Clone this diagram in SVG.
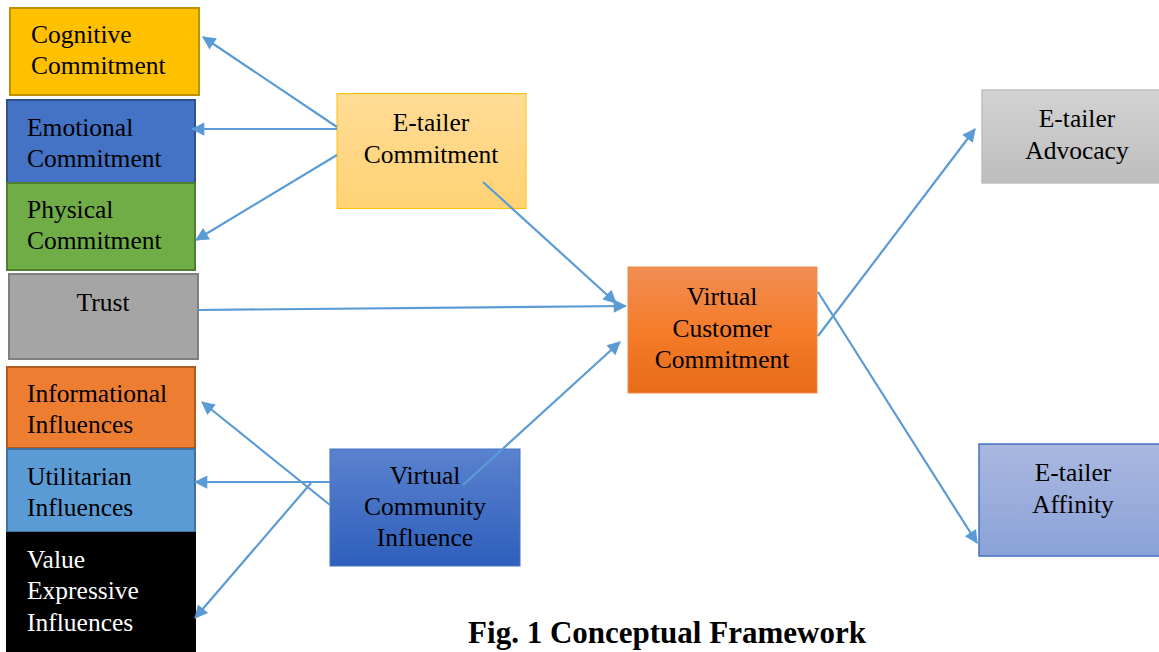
<svg xmlns="http://www.w3.org/2000/svg" width="1159" height="652" viewBox="0 0 1159 652">
<defs>
<style>
text{font-family:"Liberation Serif","Times New Roman",serif;font-size:25.5px;fill:#000}
.w{fill:#fff}
.c{text-anchor:middle}
.cap{font-size:31px;font-weight:bold}
.conn line{stroke:#5B9BD5;stroke-width:2.2;fill:none}
.a{marker-end:url(#ah)}
</style>
<marker id="ah" viewBox="0 0 10 10" refX="9" refY="5" markerWidth="7" markerHeight="7" markerUnits="userSpaceOnUse" orient="auto" style="overflow:visible">
<path d="M0,0 L10,5 L0,10 z" fill="#5B9BD5" transform="scale(1.9) translate(-4.5,-2.4)"/>
</marker>
<linearGradient id="gEC" x1="0" y1="0" x2="0" y2="1"><stop offset="0" stop-color="#FFDC96"/><stop offset="1" stop-color="#FFD274"/></linearGradient>
<linearGradient id="gVCC" x1="0" y1="0" x2="0" y2="1"><stop offset="0" stop-color="#F18D54"/><stop offset="0.5" stop-color="#F47C2A"/><stop offset="1" stop-color="#E86B18"/></linearGradient>
<linearGradient id="gVCI" x1="0" y1="0" x2="0" y2="1"><stop offset="0" stop-color="#5A82CE"/><stop offset="1" stop-color="#2E5FBC"/></linearGradient>
<linearGradient id="gAdv" x1="0" y1="0" x2="0" y2="1"><stop offset="0" stop-color="#D3D3D3"/><stop offset="1" stop-color="#BDBDBD"/></linearGradient>
<linearGradient id="gAff" x1="0" y1="0" x2="0" y2="1"><stop offset="0" stop-color="#AAB8E0"/><stop offset="1" stop-color="#8AA2D8"/></linearGradient>
</defs>
<rect width="1159" height="652" fill="#fff"/>
<g id="cognitive"><rect x="10" y="8" width="189" height="87" fill="#FFC000" stroke="#BF9000" stroke-width="2"/><text x="31" y="43">Cognitive</text><text x="31" y="74">Commitment</text></g>
<g id="emotional"><rect x="7" y="100" width="188" height="83" fill="#4472C4" stroke="#2F528F" stroke-width="2"/><text x="27" y="136">Emotional</text><text x="27" y="167">Commitment</text></g>
<g id="physical"><rect x="7" y="183" width="188" height="87" fill="#70AD47" stroke="#507E32" stroke-width="2"/><text x="27" y="218">Physical</text><text x="27" y="249">Commitment</text></g>
<g id="trust"><rect x="9" y="274" width="189" height="85" fill="#A5A5A5" stroke="#7F7F7F" stroke-width="2"/><text class="c" x="103" y="311">Trust</text></g>
<g id="informational"><rect x="7" y="367" width="188" height="81" fill="#ED7D31" stroke="#AE5A21" stroke-width="2"/><text x="27" y="402">Informational</text><text x="27" y="433">Influences</text></g>
<g id="utilitarian"><rect x="7" y="449" width="188" height="83" fill="#5B9BD5" stroke="#41719C" stroke-width="2"/><text x="27" y="485">Utilitarian</text><text x="27" y="516">Influences</text></g>
<g id="value"><rect x="6" y="532" width="190" height="121" fill="#000"/><text class="w" x="27" y="568">Value</text><text class="w" x="27" y="599">Expressive</text><text class="w" x="27" y="631">Influences</text></g>
<g id="etailer-commitment"><rect x="337" y="93.5" width="189" height="115" fill="url(#gEC)" stroke="#FFC000" stroke-width="1"/><text class="c" x="431" y="131">E-tailer</text><text class="c" x="431" y="163">Commitment</text></g>
<g id="virtual-customer-commitment"><rect x="628" y="267" width="189" height="126" fill="url(#gVCC)" stroke="#F08A4B" stroke-width="1"/><text class="c" x="722" y="305">Virtual</text><text class="c" x="722" y="337">Customer</text><text class="c" x="722" y="368">Commitment</text></g>
<g id="virtual-community-influence"><rect x="330" y="449" width="190" height="117" fill="url(#gVCI)" stroke="#4472C4" stroke-width="1"/><text class="c" x="425" y="484">Virtual</text><text class="c" x="425" y="515">Community</text><text class="c" x="425" y="546">Influence</text></g>
<g id="etailer-advocacy"><rect x="982" y="90" width="178" height="93" fill="url(#gAdv)" stroke="#BFBFBF" stroke-width="1.5"/><text class="c" x="1077" y="127">E-tailer</text><text class="c" x="1077" y="159">Advocacy</text></g>
<g id="etailer-affinity"><rect x="979" y="444" width="181" height="112" fill="url(#gAff)" stroke="#4472C4" stroke-width="1.5"/><text class="c" x="1073" y="481">E-tailer</text><text class="c" x="1073" y="513">Affinity</text></g>
<g class="conn" id="connectors">
<line class="a" x1="337" y1="127" x2="203" y2="37"/>
<line class="a" x1="337" y1="129" x2="192" y2="129"/>
<line class="a" x1="337" y1="155" x2="196" y2="240"/>
<line class="a" x1="483" y1="182" x2="616" y2="303"/>
<line class="a" x1="198" y1="310" x2="626" y2="306"/>
<line class="a" x1="463" y1="485" x2="620" y2="342"/>
<line class="a" x1="330" y1="505" x2="202" y2="402"/>
<line class="a" x1="330" y1="482" x2="195" y2="482"/>
<line class="a" x1="311" y1="483" x2="195" y2="618"/>
<line class="a" x1="818" y1="336" x2="975" y2="129"/>
<line class="a" x1="818" y1="292" x2="977" y2="543"/>
</g>
<text class="cap" x="667" y="643" text-anchor="middle">Fig. 1 Conceptual Framework</text>
</svg>
